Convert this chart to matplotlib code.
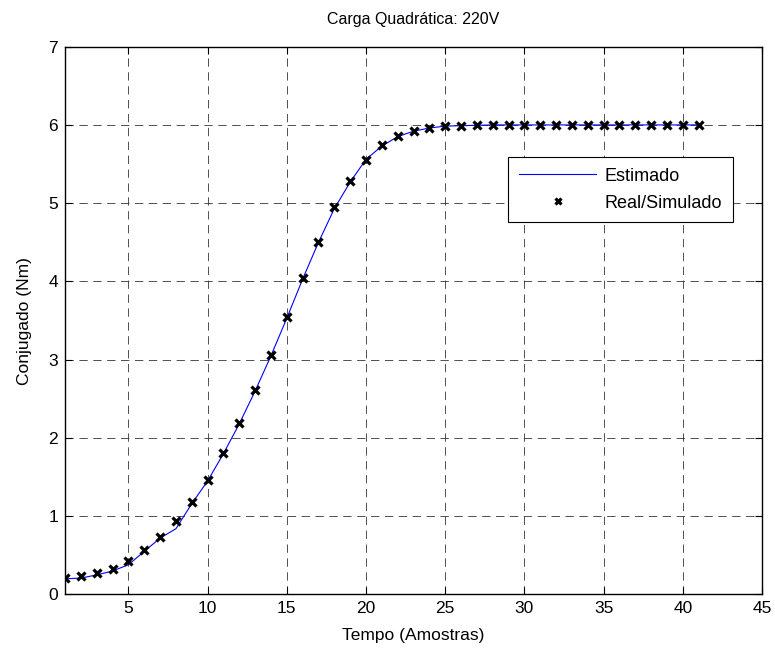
import matplotlib
matplotlib.use("Agg")
import matplotlib.pyplot as plt
import numpy as np

plt.rcParams['font.family'] = ['Liberation Sans', 'DejaVu Sans']
plt.rcParams['lines.scale_dashes'] = False

samples = list(range(1, 42))
estimado = [0.20, 0.21, 0.25, 0.30, 0.38, 0.55, 0.72, 0.84, 1.16, 1.45,
            1.80, 2.18, 2.60, 3.05, 3.53, 4.03, 4.50, 4.93, 5.27, 5.56,
            5.73, 5.85, 5.92, 5.96, 5.985, 5.99, 5.995, 6.0, 6.0, 6.0,
            6.0, 6.0, 6.0, 6.0, 6.0, 6.0, 6.0, 6.0, 6.0, 6.0, 6.0]
real = [0.21, 0.23, 0.27, 0.33, 0.43, 0.57, 0.74, 0.94, 1.18, 1.46,
        1.81, 2.19, 2.61, 3.06, 3.55, 4.04, 4.51, 4.95, 5.28, 5.55,
        5.74, 5.86, 5.92, 5.96, 5.985, 5.99, 5.995, 6.0, 6.0, 6.0,
        6.0, 6.0, 6.0, 6.0, 6.0, 6.0, 6.0, 6.0, 6.0, 6.0, 6.0]
xticks = [5, 10, 15, 20, 25, 30, 35, 40, 45]
yticks = [0, 1, 2, 3, 4, 5, 6, 7]

fig = plt.figure(figsize=(7.75, 6.48), dpi=100)
ax = fig.add_axes([0.0839, 0.0826, 0.8994, 0.8454])

ax.plot(samples, estimado, color='#0000ff', lw=0.8, label='Estimado')
ax.plot(samples, real, linestyle='none', marker='x', color='black',
        markersize=6, markeredgewidth=2.3, label='Real/Simulado')

ax.set_xlim(1, 45)
ax.set_ylim(0, 7)
ax.set_xticks(xticks)
ax.set_yticks(yticks)
ax.tick_params(direction='in', top=True, right=True, length=5, labelsize=12.5, pad=5)
ax.grid(True, color='#333333', linestyle=(0, (6, 4)), linewidth=0.6)
for s in ax.spines.values():
    s.set_linewidth(1.0)
    s.set_color('black')

ax.set_title('Carga Quadrática: 220V', fontsize=11.5, pad=16)
ax.set_xlabel('Tempo (Amostras)', fontsize=12.5, labelpad=8)
ax.set_ylabel('Conjugado (Nm)', fontsize=12.5, labelpad=12)

leg = ax.legend(loc='upper right', bbox_to_anchor=(0.958, 0.799), borderaxespad=0,
                fontsize=13, fancybox=False, framealpha=1, edgecolor='black',
                handlelength=4.3, borderpad=0.6, labelspacing=0.55, handletextpad=0.45,
                markerscale=0.7)
leg.get_frame().set_linewidth(0.8)

fig.savefig('out.png', dpi=100)
